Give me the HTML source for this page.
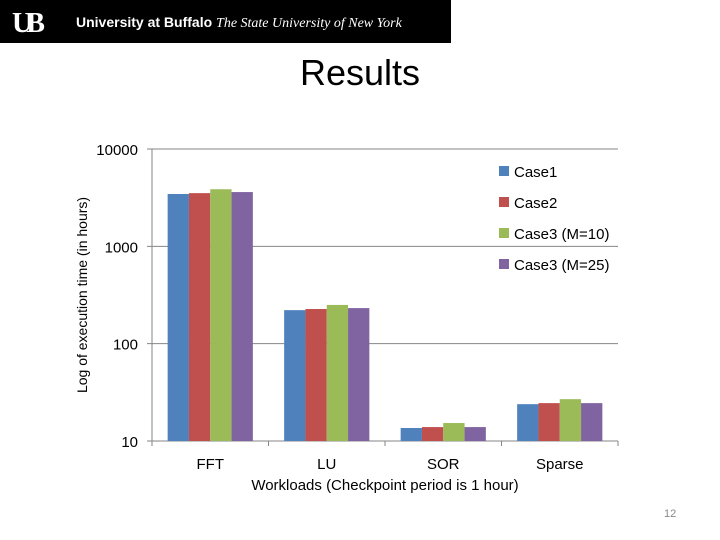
<!DOCTYPE html>
<html><head><meta charset="utf-8"><style>
body{margin:0;background:#fff;width:720px;height:540px;overflow:hidden;font-family:"Liberation Sans",sans-serif}
</style></head><body>
<div style="position:absolute;left:0;top:0;width:451px;height:43px;background:#000"></div>
<div style="position:absolute;left:12px;top:8px;color:#fff;font:bold 28px 'Liberation Serif',serif;letter-spacing:-6px">UB</div>
<div style="position:absolute;left:76px;top:14px;color:#fff;font:bold 14px 'Liberation Sans',sans-serif;white-space:nowrap">University at Buffalo <span style="font:italic 14px 'Liberation Serif',serif">The State University of New York</span></div>
<div style="position:absolute;left:0;width:720px;top:52px;text-align:center;font-size:36px;color:#000">Results</div>
<div style="position:absolute;left:664px;top:508px;font-size:11px;color:#888">12</div>
<svg id="chart" width="720" height="540" style="position:absolute;left:0;top:0" font-family="Liberation Sans, sans-serif"></svg>
<script>
const categories=["FFT","LU","SOR","Sparse"];
const seriesNames=["Case1","Case2","Case3 (M=10)","Case3 (M=25)"];
const case1=[3450,221,13.6,23.9];
const case2=[3520,227,13.9,24.5];
const case3m10=[3860,250,15.3,26.9];
const case3m25=[3610,232,13.9,24.5];
const tickValues=[10,100,1000,10000];
const series=[case1,case2,case3m10,case3m25];
const colors=["#4F81BD","#C0504D","#9BBB59","#8064A2"];
const svg=document.getElementById('chart');const NS="http://www.w3.org/2000/svg";
const L=152,R=618,T=149,B=441;
const y=v=>B-(Math.log10(v)-1)/3*(B-T);
const cw=(R-L)/categories.length;
function mk(t,a,txt){const e=document.createElementNS(NS,t);for(const k in a)e.setAttribute(k,a[k]);if(txt!=null)e.textContent=txt;svg.appendChild(e);return e;}
tickValues.forEach(v=>{
 const g=mk('line',{x1:L-5,x2:R,y1:y(v),y2:y(v),stroke:'#868686','stroke-width':1});
 
 
 const t=mk('text',{x:L-14,y:y(v)+6,'text-anchor':'end','font-size':15,fill:'#000'},String(v));
 
 
});
const ax=mk('line',{x1:L,x2:L,y1:T,y2:B,stroke:'#868686'});


for(let i=0;i<=categories.length;i++){
 const tk=mk('line',{x1:L+i*cw,x2:L+i*cw,y1:B,y2:B+5,stroke:'#868686'});
 
 
}
const bw=21.3,off=(cw-4*bw)/2;
categories.forEach((c,i)=>{
 series.forEach((s,j)=>{
  const x=L+i*cw+off+j*bw;
  const r=mk('rect',{x:x,y:y(s[i]),width:bw,height:B-y(s[i]),fill:colors[j]});
  
  
 });
 const t=mk('text',{x:L+i*cw+cw/2,y:469,'text-anchor':'middle','font-size':15,fill:'#000'},c);
 
 
});
seriesNames.forEach((n,j)=>{
 const cy=171+j*31;
 const sq=mk('rect',{x:499,y:cy-5,width:10,height:10,fill:colors[j]});
 
 
 const t=mk('text',{x:514,y:cy+6,'font-size':15,fill:'#000'},n);
 
 
});
const xt=mk('text',{x:385,y:490,'text-anchor':'middle','font-size':15,fill:'#000'},'Workloads (Checkpoint period is 1 hour)');


const yt=mk('text',{x:0,y:0,'text-anchor':'middle','font-size':14,fill:'#000',transform:'translate(87,295) rotate(-90)'},'Log of execution time (in hours)');


</script>
</body></html>
